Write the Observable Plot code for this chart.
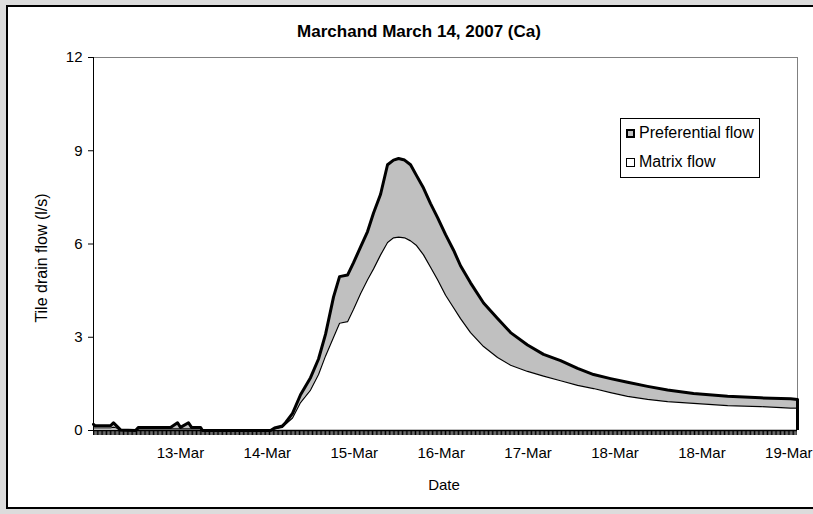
<!DOCTYPE html>
<html>
<head>
<meta charset="utf-8">
<script src="https://cdn.jsdelivr.net/npm/d3@7"></script>
<script src="https://cdn.jsdelivr.net/npm/@observablehq/plot@0.6"></script>
<style>
  html, body { margin: 0; padding: 0; background: #dcdcdc; }
  #wrap { position: relative; width: 813px; height: 514px; overflow: hidden; font-family: "Liberation Sans", Arial, sans-serif; }
  #panel { position: absolute; left: 6px; top: 5px; width: 820px; height: 500px; background: #fff; border: 2px solid #000; }
  #chart { position: absolute; left: 0; top: 0; }
  .txt { position: absolute; color: #000; white-space: nowrap; }
  #title { left: 419px; top: 32px; font-weight: bold; font-size: 17px; transform: translate(-50%, -50%); }
  #ylab { left: 42px; top: 258px; font-size: 16px; transform: translate(-50%, -50%) rotate(-90deg); }
  #xlab { left: 444px; top: 484px; font-size: 15px; transform: translate(-50%, -50%); }
  #legend { position: absolute; left: 620px; top: 118px; width: 138px; height: 58px; border: 1px solid #000; background: #fff; font-size: 16px; }
  .row { position: absolute; left: 5px; display: flex; align-items: center; line-height: 18px; }
  .sw { width: 9px; height: 9px; margin-right: 4px; box-sizing: border-box; }
</style>
</head>
<body>
<div id="wrap">
  <div id="panel"></div>
  <div id="chart"></div>
  <div class="txt" id="title">Marchand March 14, 2007 (Ca)</div>
  <div class="txt" id="ylab">Tile drain flow (l/s)</div>
  <div class="txt" id="xlab">Date</div>
  <div id="legend">
    <div class="row" style="top:5px;"><div class="sw" style="background:#c0c0c0;border:2px solid #000;"></div><span>Preferential flow</span></div>
    <div class="row" style="top:34px;"><div class="sw" style="background:#fff;border:1px solid #000;"></div><span>Matrix flow</span></div>
  </div>
</div>
<script>
// Position along the date axis, in units of the category-label spacing
const position = [0, 0.02, 0.081, 0.196, 0.230, 0.265, 0.311, 0.483, 0.518, 0.886, 0.967, 1.001, 1.093, 1.128, 1.231, 1.254,
  2.037, 2.083, 2.175, 2.209, 2.290, 2.382, 2.497, 2.589, 2.670, 2.762, 2.831, 2.923, 2.992, 3.072, 3.153, 3.222, 3.303,
  3.383, 3.452, 3.510, 3.579, 3.648, 3.717, 3.797, 3.878, 3.959, 4.051, 4.143, 4.223, 4.338, 4.488, 4.649, 4.799, 4.994,
  5.178, 5.374, 5.570, 5.754, 5.949, 6.145, 6.375, 6.605, 6.904, 7.296, 7.676, 8.021, 8.1];
// Total flow (top of preferential flow band), l/s
const preferentialFlow = [0.2, 0.15, 0.15, 0.15, 0.25, 0.15, 0.02, 0, 0.1, 0.1, 0.25, 0.1, 0.25, 0.1, 0.1, 0,
  0, 0.08, 0.15, 0.25, 0.55, 1.15, 1.7, 2.3, 3.1, 4.3, 4.95, 5.0, 5.4, 5.9, 6.4, 7.0, 7.6,
  8.55, 8.7, 8.75, 8.7, 8.55, 8.2, 7.8, 7.3, 6.85, 6.3, 5.8, 5.3, 4.75, 4.1, 3.6, 3.15, 2.75,
  2.45, 2.25, 2.0, 1.8, 1.67, 1.55, 1.42, 1.3, 1.19, 1.1, 1.05, 1.02, 1.0];
// Matrix flow, l/s
const matrixFlow = [0.08, 0.08, 0.08, 0.08, 0.1, 0.08, 0, 0, 0.05, 0.05, 0.05, 0.05, 0.05, 0.05, 0.05, 0,
  0, 0.05, 0.1, 0.2, 0.4, 0.9, 1.3, 1.8, 2.4, 3.0, 3.45, 3.5, 3.9, 4.4, 4.85, 5.2, 5.65,
  6.05, 6.2, 6.22, 6.2, 6.1, 5.95, 5.65, 5.25, 4.85, 4.35, 3.95, 3.6, 3.15, 2.7, 2.35, 2.1, 1.9,
  1.75, 1.6, 1.45, 1.35, 1.22, 1.1, 1.0, 0.93, 0.87, 0.8, 0.77, 0.72, 0.72];
const tickPositions = [1, 2, 3, 4, 5, 6, 7, 8];
const tickLabels = ["13-Mar", "14-Mar", "15-Mar", "16-Mar", "17-Mar", "18-Mar", "18-Mar", "19-Mar"];
const yTicks = [0, 3, 6, 9, 12];

const data = position.map((p, i) => ({p, total: preferentialFlow[i], matrix: matrixFlow[i]}));
const last = data[data.length - 1];
const xMax = 8.1;
const minorTicks = d3.range(0, xMax, 0.015);

const chart = Plot.plot({
  width: 813,
  height: 514,
  marginLeft: 93,
  marginRight: 16,
  marginTop: 57,
  marginBottom: 84,
  style: {background: "transparent", fontFamily: "'Liberation Sans', Arial, sans-serif", fontSize: "15px", color: "#000"},
  x: {domain: [0, xMax]},
  y: {domain: [0, 12]},
  marks: [
    Plot.ruleY([12], {stroke: "#808080", strokeWidth: 1}),
    Plot.ruleX([xMax], {stroke: "#808080", strokeWidth: 1}),
    Plot.areaY(data, {x: "p", y: "total", fill: "#c0c0c0"}),
    Plot.areaY(data, {x: "p", y: "matrix", fill: "#fff"}),
    Plot.lineY(data, {x: "p", y: "matrix", stroke: "#000", strokeWidth: 1.2}),
    Plot.lineY(data, {x: "p", y: "total", stroke: "#000", strokeWidth: 3}),
    Plot.ruleX([last], {x: "p", y1: 0, y2: "total", stroke: "#000", strokeWidth: 3}),
    Plot.ruleX([0], {stroke: "#000", strokeWidth: 1}),
    Plot.ruleY([0], {stroke: "#000", strokeWidth: 1.5}),
    Plot.axisY({ticks: yTicks, tickSize: 5, tickPadding: 6, label: null, fontSize: 15, tickFormat: d => String(d)}),
    Plot.axisX({ticks: minorTicks, tickSize: 5, tickFormat: () => "", label: null, strokeWidth: 1}),
    Plot.axisX({ticks: tickPositions, tickSize: 0, tickPadding: 17, label: null, fontSize: 15,
      tickFormat: d => tickLabels[tickPositions.indexOf(d)]})
  ]
});
document.getElementById("chart").appendChild(chart);
</script>
</body>
</html>
